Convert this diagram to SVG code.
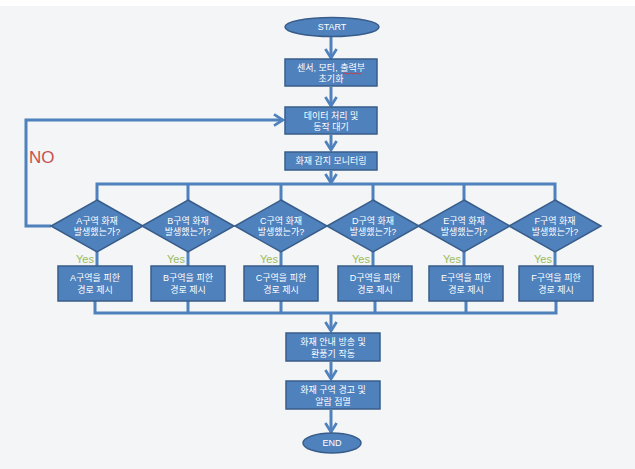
<svg xmlns="http://www.w3.org/2000/svg" width="635" height="469" viewBox="0 0 635 469">
<defs>
<style>
.bg{fill:#f3f5f7}
.box{fill:#4f81bd;stroke:#385d8a;stroke-width:1.5}
.t{fill:#ffffff;font-family:"Liberation Sans","Noto Sans CJK KR",sans-serif;font-size:9px;text-anchor:middle}
.ln{fill:none;stroke:#4f81bd;stroke-width:3}
.yes{fill:#9bbb59;font-family:"Liberation Sans","Noto Sans CJK KR",sans-serif;font-size:11px;text-anchor:end}
.no{fill:#c9504d;font-family:"Liberation Sans",sans-serif;font-size:17px}
</style>
<marker id="arr" viewBox="0 0 12 12" refX="10" refY="6" markerWidth="4.5" markerHeight="4.5" markerUnits="strokeWidth" orient="auto">
<polyline points="2,1 10,6 2,11" fill="none" stroke="#4f81bd" stroke-width="2.4"/>
</marker>
</defs>
<rect class="bg" x="0" y="0" width="635" height="469"/>
<rect x="0" y="0" width="635" height="6" fill="#ffffff"/>

<g id="connectors">
<line class="ln" x1="331" y1="37" x2="331" y2="58" marker-end="url(#arr)"/>
<line class="ln" x1="331" y1="87" x2="331" y2="106" marker-end="url(#arr)"/>
<line class="ln" x1="331" y1="135" x2="331" y2="150" marker-end="url(#arr)"/>
<line class="ln" x1="331" y1="171" x2="331" y2="183" marker-end="url(#arr)"/>
<polyline class="ln" points="97,200 97,184 555,184 555,200"/>
<line class="ln" x1="188" y1="184" x2="188" y2="200"/>
<line class="ln" x1="281" y1="184" x2="281" y2="200"/>
<line class="ln" x1="373" y1="184" x2="373" y2="200"/>
<line class="ln" x1="464" y1="184" x2="464" y2="200"/>
<polyline class="ln" points="51,226 26,226 26,120 283,120" marker-end="url(#arr)"/>
<line class="ln" x1="97" y1="252" x2="97" y2="266"/>
<line class="ln" x1="188" y1="252" x2="188" y2="266"/>
<line class="ln" x1="281" y1="252" x2="281" y2="266"/>
<line class="ln" x1="373" y1="252" x2="373" y2="266"/>
<line class="ln" x1="464" y1="252" x2="464" y2="266"/>
<line class="ln" x1="555" y1="252" x2="555" y2="266"/>
<polyline class="ln" points="95,301 95,313 556,313 556,301"/>
<line class="ln" x1="188" y1="301" x2="188" y2="313"/>
<line class="ln" x1="281" y1="301" x2="281" y2="313"/>
<line class="ln" x1="375" y1="301" x2="375" y2="313"/>
<line class="ln" x1="466" y1="301" x2="466" y2="313"/>
<line class="ln" x1="331" y1="313" x2="331" y2="331" marker-end="url(#arr)"/>
<line class="ln" x1="331" y1="362" x2="331" y2="379" marker-end="url(#arr)"/>
<line class="ln" x1="331" y1="410" x2="331" y2="432" marker-end="url(#arr)"/>
<text class="no" x="29" y="163">NO</text>
<text class="yes" x="94" y="263">Yes</text>
<text class="yes" x="185" y="263">Yes</text>
<text class="yes" x="278" y="263">Yes</text>
<text class="yes" x="370" y="263">Yes</text>
<text class="yes" x="461" y="263">Yes</text>
<text class="yes" x="552" y="263">Yes</text>
</g>

<g id="start">
<ellipse class="box" cx="332" cy="27" rx="47" ry="9.5"/>
<text class="t" x="332" y="30">START</text>
</g>
<g id="init">
<rect class="box" x="285" y="59" width="92" height="27"/>
<text class="t" x="331" y="71">센서, 모터, 출력부</text>
<text class="t" x="331" y="82">초기화</text>
<path d="M343 73.5 q1.5 -1 3 0 t3 0 t3 0 t3 0 t3 0 t3 0" fill="none" stroke="#e03030" stroke-width="0.8"/>
</g>
<g id="wait">
<rect class="box" x="285" y="107" width="92" height="27"/>
<text class="t" x="331" y="119">데이터 처리 및</text>
<text class="t" x="331" y="130">동작 대기</text>
</g>
<g id="monitor">
<rect class="box" x="285" y="152" width="92" height="18"/>
<text class="t" x="331" y="164">화재 감지 모니터링</text>
</g>

<g id="dA"><polygon class="box" points="97,200 143,226 97,252 51,226"/><text class="t" x="97" y="224">A구역 화재</text><text class="t" x="97" y="235">발생했는가?</text></g>
<g id="dB"><polygon class="box" points="188,200 234,226 188,252 142,226"/><text class="t" x="188" y="224">B구역 화재</text><text class="t" x="188" y="235">발생했는가?</text></g>
<g id="dC"><polygon class="box" points="281,200 327,226 281,252 235,226"/><text class="t" x="281" y="224">C구역 화재</text><text class="t" x="281" y="235">발생했는가?</text></g>
<g id="dD"><polygon class="box" points="373,200 419,226 373,252 327,226"/><text class="t" x="373" y="224">D구역 화재</text><text class="t" x="373" y="235">발생했는가?</text></g>
<g id="dE"><polygon class="box" points="464,200 510,226 464,252 418,226"/><text class="t" x="464" y="224">E구역 화재</text><text class="t" x="464" y="235">발생했는가?</text></g>
<g id="dF"><polygon class="box" points="555,200 601,226 555,252 509,226"/><text class="t" x="555" y="224">F구역 화재</text><text class="t" x="555" y="235">발생했는가?</text></g>

<g id="rA"><rect class="box" x="58" y="266" width="74" height="35"/><text class="t" x="95" y="281">A구역을 피한</text><text class="t" x="95" y="293">경로 제시</text></g>
<g id="rB"><rect class="box" x="151" y="266" width="74" height="35"/><text class="t" x="188" y="281">B구역을 피한</text><text class="t" x="188" y="293">경로 제시</text></g>
<g id="rC"><rect class="box" x="244" y="266" width="74" height="35"/><text class="t" x="281" y="281">C구역을 피한</text><text class="t" x="281" y="293">경로 제시</text></g>
<g id="rD"><rect class="box" x="338" y="266" width="74" height="35"/><text class="t" x="375" y="281">D구역을 피한</text><text class="t" x="375" y="293">경로 제시</text></g>
<g id="rE"><rect class="box" x="429" y="266" width="74" height="35"/><text class="t" x="466" y="281">E구역을 피한</text><text class="t" x="466" y="293">경로 제시</text></g>
<g id="rF"><rect class="box" x="519" y="266" width="74" height="35"/><text class="t" x="556" y="281">F구역을 피한</text><text class="t" x="556" y="293">경로 제시</text></g>

<g id="broadcast">
<rect class="box" x="286" y="333" width="94" height="28"/>
<text class="t" x="333" y="345">화재 안내 방송 및</text>
<text class="t" x="333" y="357">환풍기 작동</text>
</g>
<g id="alarm">
<rect class="box" x="286" y="381" width="94" height="28"/>
<text class="t" x="333" y="393">화재 구역 경고 및</text>
<text class="t" x="333" y="405">알람 점멸</text>
</g>
<g id="end">
<ellipse class="box" cx="332" cy="443" rx="29" ry="10"/>
<text class="t" x="332" y="446">END</text>
</g>
</svg>
